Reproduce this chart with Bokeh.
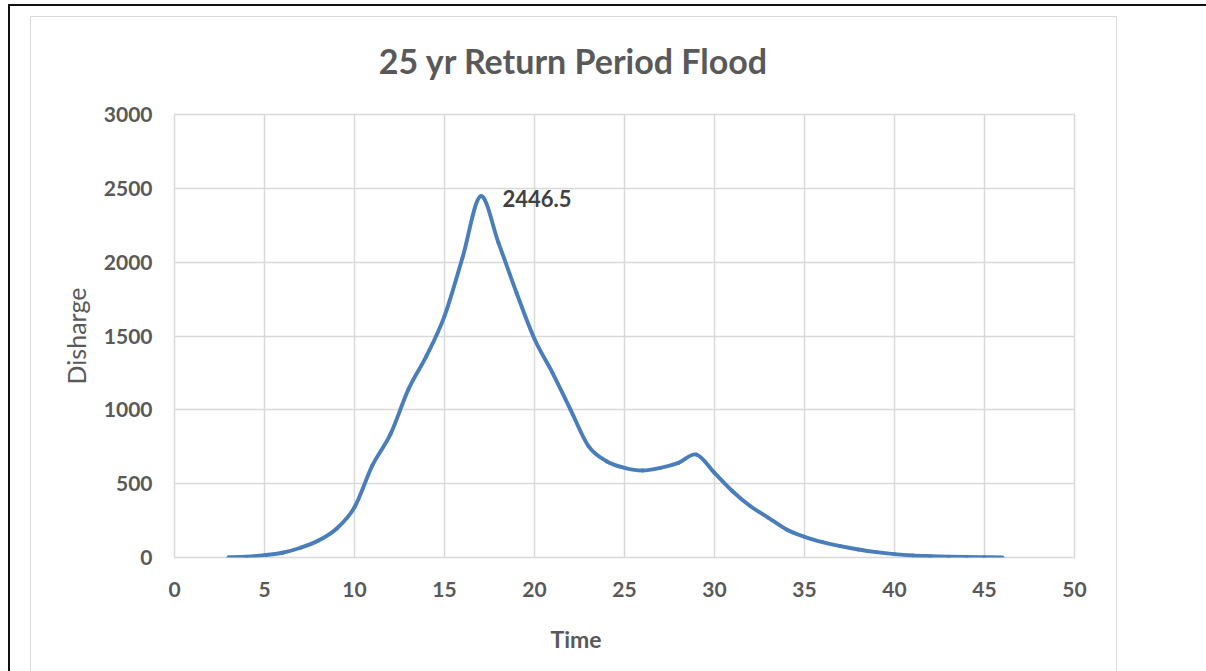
from bokeh.plotting import figure
from bokeh.models import ColumnDataSource, FixedTicker, Title, Div
from bokeh.layouts import column
from bokeh.embed import file_html
from bokeh.resources import INLINE
from bokeh.core.properties import value

# ---- data ----
time = list(range(3, 47))
discharge = [2, 5, 16, 32, 66, 115, 195, 340, 625, 835, 1140, 1365, 1635, 2030,
             2446.5, 2131, 1793, 1480, 1251, 1002, 754, 652, 607, 589, 607, 641,
             697, 573, 449, 347, 269, 190, 140, 104, 77, 54, 36, 23, 14, 9, 5, 3, 2, 1]
x_ticks = list(range(0, 51, 5))
y_ticks = list(range(0, 3001, 500))
title_text = "25 yr Return Period Flood"
x_title = "Time"
y_title = "Disharge"

peak_i = discharge.index(max(discharge))
peak_t = time[peak_i]
peak_v = discharge[peak_i]

# smoothed line (Catmull-Rom style bezier segments between the data points)
n = len(time)
x0, y0, x1, y1, cx0, cy0, cx1, cy1 = [], [], [], [], [], [], [], []
for i in range(n - 1):
    pm = i - 1 if i > 0 else i
    pp = i + 2 if i + 2 < n else i + 1
    x0.append(time[i]); y0.append(discharge[i])
    x1.append(time[i + 1]); y1.append(discharge[i + 1])
    cx0.append(time[i] + (time[i + 1] - time[pm]) / 6)
    cy0.append(discharge[i] + (discharge[i + 1] - discharge[pm]) / 6)
    cx1.append(time[i + 1] - (time[pp] - time[i]) / 6)
    cy1.append(discharge[i + 1] - (discharge[pp] - discharge[i]) / 6)
seg = ColumnDataSource(dict(x0=x0, y0=y0, x1=x1, y1=y1, cx0=cx0, cy0=cy0, cx1=cx1, cy1=cy1))

FONT = "Lato"
GREY = "#595959"
W = 1084
TITLE_H = 77

title_div = Div(text=title_text, width=W, height=TITLE_H, margin=0,
                styles={"font-family": FONT, "font-weight": "bold", "font-size": "34px",
                        "color": GREY, "text-align": "center",
                        "line-height": "87px", "background": "white"})

p = figure(width=W, height=640, output_backend="svg", toolbar_location=None,
           x_range=(0, 50), y_range=(0, 3000), margin=0,
           min_border_left=143, min_border_right=41, min_border_top=20, min_border_bottom=177)
p.title.text = ""
p.background_fill_color = "white"
p.border_fill_color = "white"
p.outline_line_color = "#d9d9d9"
p.outline_line_width = 1.5

for ax in (p.xaxis[0], p.yaxis[0]):
    ax.axis_line_color = None
    ax.major_tick_line_color = None
    ax.minor_tick_line_color = None
    ax.major_label_text_font = FONT
    ax.major_label_text_font_style = "bold"
    ax.major_label_text_font_size = "21px"
    ax.major_label_text_color = GREY
p.xaxis.ticker = FixedTicker(ticks=x_ticks)
p.yaxis.ticker = FixedTicker(ticks=y_ticks)
p.xaxis.major_label_standoff = 18
p.yaxis.major_label_standoff = 16

p.yaxis.axis_label = y_title
p.yaxis.axis_label_text_font = FONT
p.yaxis.axis_label_text_font_style = "normal"
p.yaxis.axis_label_text_font_size = "25px"
p.yaxis.axis_label_text_color = GREY
p.yaxis.axis_label_standoff = 10

p.xgrid.grid_line_color = "#d9d9d9"
p.ygrid.grid_line_color = "#d9d9d9"
p.xgrid.grid_line_width = 1.5
p.ygrid.grid_line_width = 1.5

p.bezier(x0="x0", y0="y0", x1="x1", y1="y1", cx0="cx0", cy0="cy0", cx1="cx1", cy1="cy1",
         source=seg, line_color="#4A7EBB", line_width=3.9, line_cap="round")

p.text(x=[peak_t], y=[peak_v], text=[str(peak_v)], x_offset=22, y_offset=2,
       text_font=value(FONT), text_font_style="bold", text_font_size="22px",
       text_color="#404040", text_baseline="middle", text_align="left")

p.add_layout(Title(text=x_title, align="left", offset=376, text_font=FONT,
                   text_font_style="bold", text_font_size="23px", text_color=GREY,
                   vertical_align="top", standoff=51), "below")

inner = column(title_div, p, width=W + 3, margin=0,
               styles={"border-top": "1.5px solid #d9d9d9", "border-left": "1.5px solid #d9d9d9",
                       "border-right": "1.5px solid #d9d9d9", "background": "white"})

layout = column(inner, width=1198, height=667,
                styles={"border-top": "2px solid #111", "border-left": "2px solid #111",
                        "padding": "10px 0 0 20px", "margin-left": "8px", "margin-top": "4px",
                        "overflow": "hidden"})

open("out.html", "w").write(file_html(layout, INLINE))
